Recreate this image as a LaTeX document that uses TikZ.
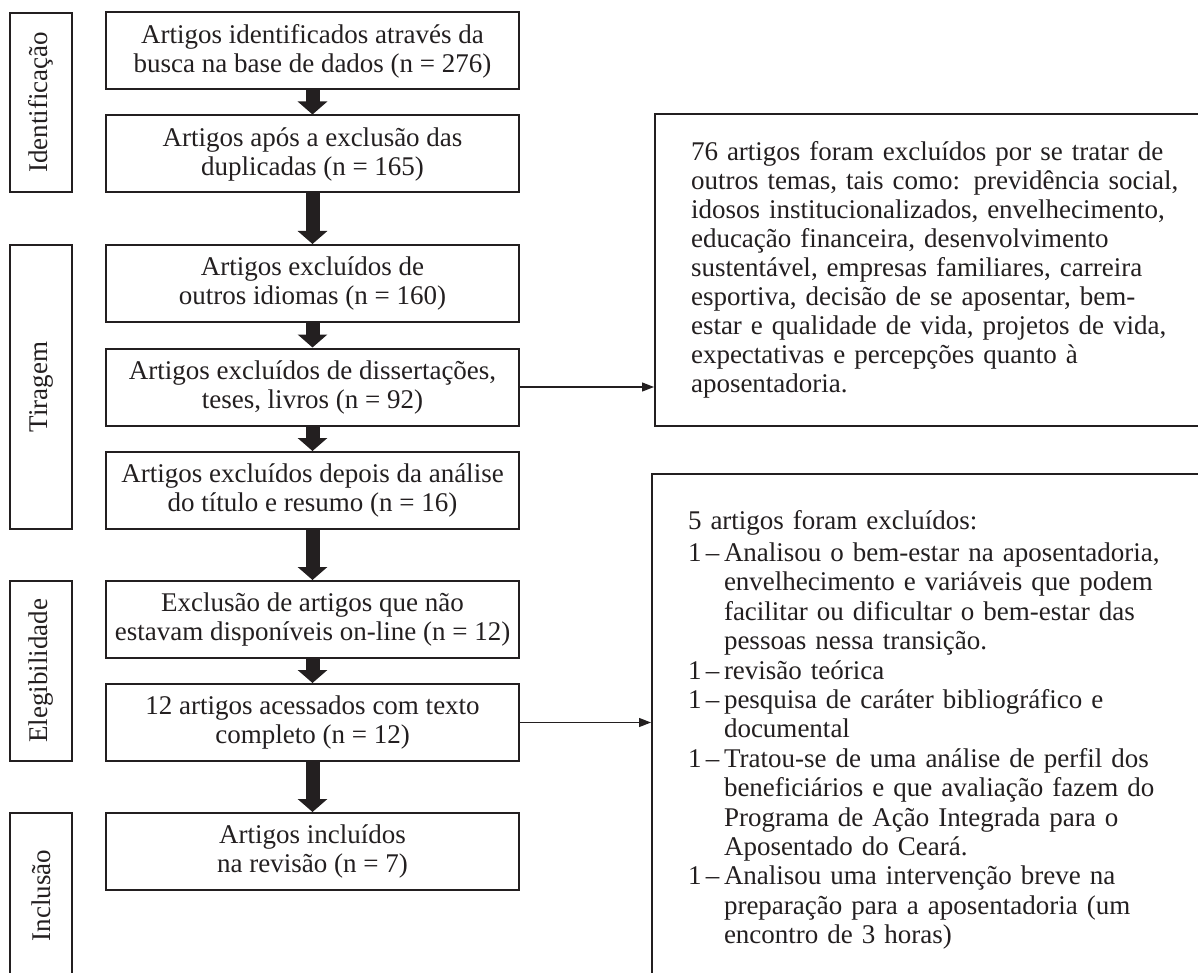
\documentclass[tikz,border=0pt]{standalone}
\usepackage{fontspec}
\setmainfont{Liberation Serif}
\usepackage{tikz}
\usetikzlibrary{arrows.meta, positioning, calc}
\definecolor{ink}{RGB}{35,31,32}
\newcommand{\boxfont}{\fontsize{13.5pt}{14.5pt}\selectfont}
\newcommand{\listfont}{\fontsize{13.5pt}{14.7pt}\selectfont}
\newcommand{\exclnum}{\makebox[18pt][l]{1\,–}}
\newcommand{\excltab}{\hspace*{18pt}}
\tikzset{
  stage/.style={draw=ink, line width=1pt, rotate=90, minimum height=31pt,
                inner sep=0pt, text=ink, font=\boxfont},
  stepbox/.style={draw=ink, line width=1pt, minimum width=206.5pt, minimum height=38.5pt,
                  inner sep=0pt, align=center, text=ink, font=\boxfont},
  note/.style={draw=ink, line width=1pt, anchor=north west, align=left, text width=262pt,
               inner xsep=18pt, text=ink, font=\boxfont},
  flow/.style={draw=ink, line width=7pt, -{Triangle[width=14.5pt, length=6.5pt]}},
  side/.style={draw=ink, line width=0.6pt, -{Triangle[width=4.5pt, length=6pt]}}
}

\begin{document}
\boxfont
\begin{tikzpicture}[x=0.5pt, y=-0.5pt]
  \path[use as bounding box, fill=white] (0,0) rectangle (1198,973);

  % stages
  \node[stage, minimum width=89.5pt] (ident) at (41,102.5) {Identificação};
  \node[stage, minimum width=142pt]  (screen) at (41,387)  {Tiragem};
  \node[stage, minimum width=90pt]   (elig) at (41,671)    {Elegibilidade};
  \node[stage, minimum width=82.5pt] (inclu) at (41,895.5) {Inclusão};

  % main flow
  \node[stepbox] (found)  at (312.5,51)    {Artigos identificados através da\\busca na base de dados (n = 276)};
  \node[stepbox] (dedup)  at (312.5,154)   {Artigos após a exclusão das\\duplicadas (n = 165)};
  \node[stepbox] (lang)   at (312.5,283.5) {Artigos excluídos de\\outros idiomas (n = 160)};
  \node[stepbox] (thesis) at (312.5,387)   {Artigos excluídos de dissertações,\\teses, livros (n = 92)};
  \node[stepbox] (title)  at (312.5,490.5) {Artigos excluídos depois da análise\\do título e resumo (n = 16)};
  \node[stepbox] (online) at (312.5,619.5) {Exclusão de artigos que não\\estavam disponíveis on-line (n = 12)};
  \node[stepbox] (full)   at (312.5,722.5) {12 artigos acessados com texto\\completo (n = 12)};
  \node[stepbox] (incl)   at (312.5,851.5) {Artigos incluídos\\na revisão (n = 7)};

  % exclusion notes
  \node[note, minimum height=156pt] (themes) at (654,113) {%
    76 artigos foram excluídos por se tratar de\\
    outros temas, tais como: previdência social,\\
    idosos institucionalizados, envelhecimento,\\
    educação financeira, desenvolvimento\\
    sustentável, empresas familiares, carreira\\
    esportiva, decisão de se aposentar, bem-\\
    estar e qualidade de vida, projetos de vida,\\
    expectativas e percepções quanto à\\
    aposentadoria.};
  \node[note, font=\listfont, inner ysep=18pt] (reasons) at (651,473) {%
    5 artigos foram excluídos:\\[1.5pt]
    \exclnum Analisou o bem-estar na aposentadoria,\\
    \excltab envelhecimento e variáveis que podem\\
    \excltab facilitar ou dificultar o bem-estar das\\
    \excltab pessoas nessa transição.\\
    \exclnum revisão teórica\\
    \exclnum pesquisa de caráter bibliográfico e\\
    \excltab documental\\
    \exclnum Tratou-se de uma análise de perfil dos\\
    \excltab beneficiários e que avaliação fazem do\\
    \excltab Programa de Ação Integrada para o\\
    \excltab Aposentado do Ceará.\\
    \exclnum Analisou uma intervenção breve na\\
    \excltab preparação para a aposentadoria (um\\
    \excltab encontro de 3 horas)\\[20pt]\mbox{}};

  \draw[flow] (found) -- (dedup);
  \draw[flow] (dedup) -- (lang);
  \draw[flow] (lang) -- (thesis);
  \draw[flow] (thesis) -- (title);
  \draw[flow] (title) -- (online);
  \draw[flow] (online) -- (full);
  \draw[flow] (full) -- (incl);

  \draw[side] (thesis.east) -- (thesis.east -| themes.west);
  \draw[side] (full.east) -- (full.east -| reasons.west);
\end{tikzpicture}
\end{document}
